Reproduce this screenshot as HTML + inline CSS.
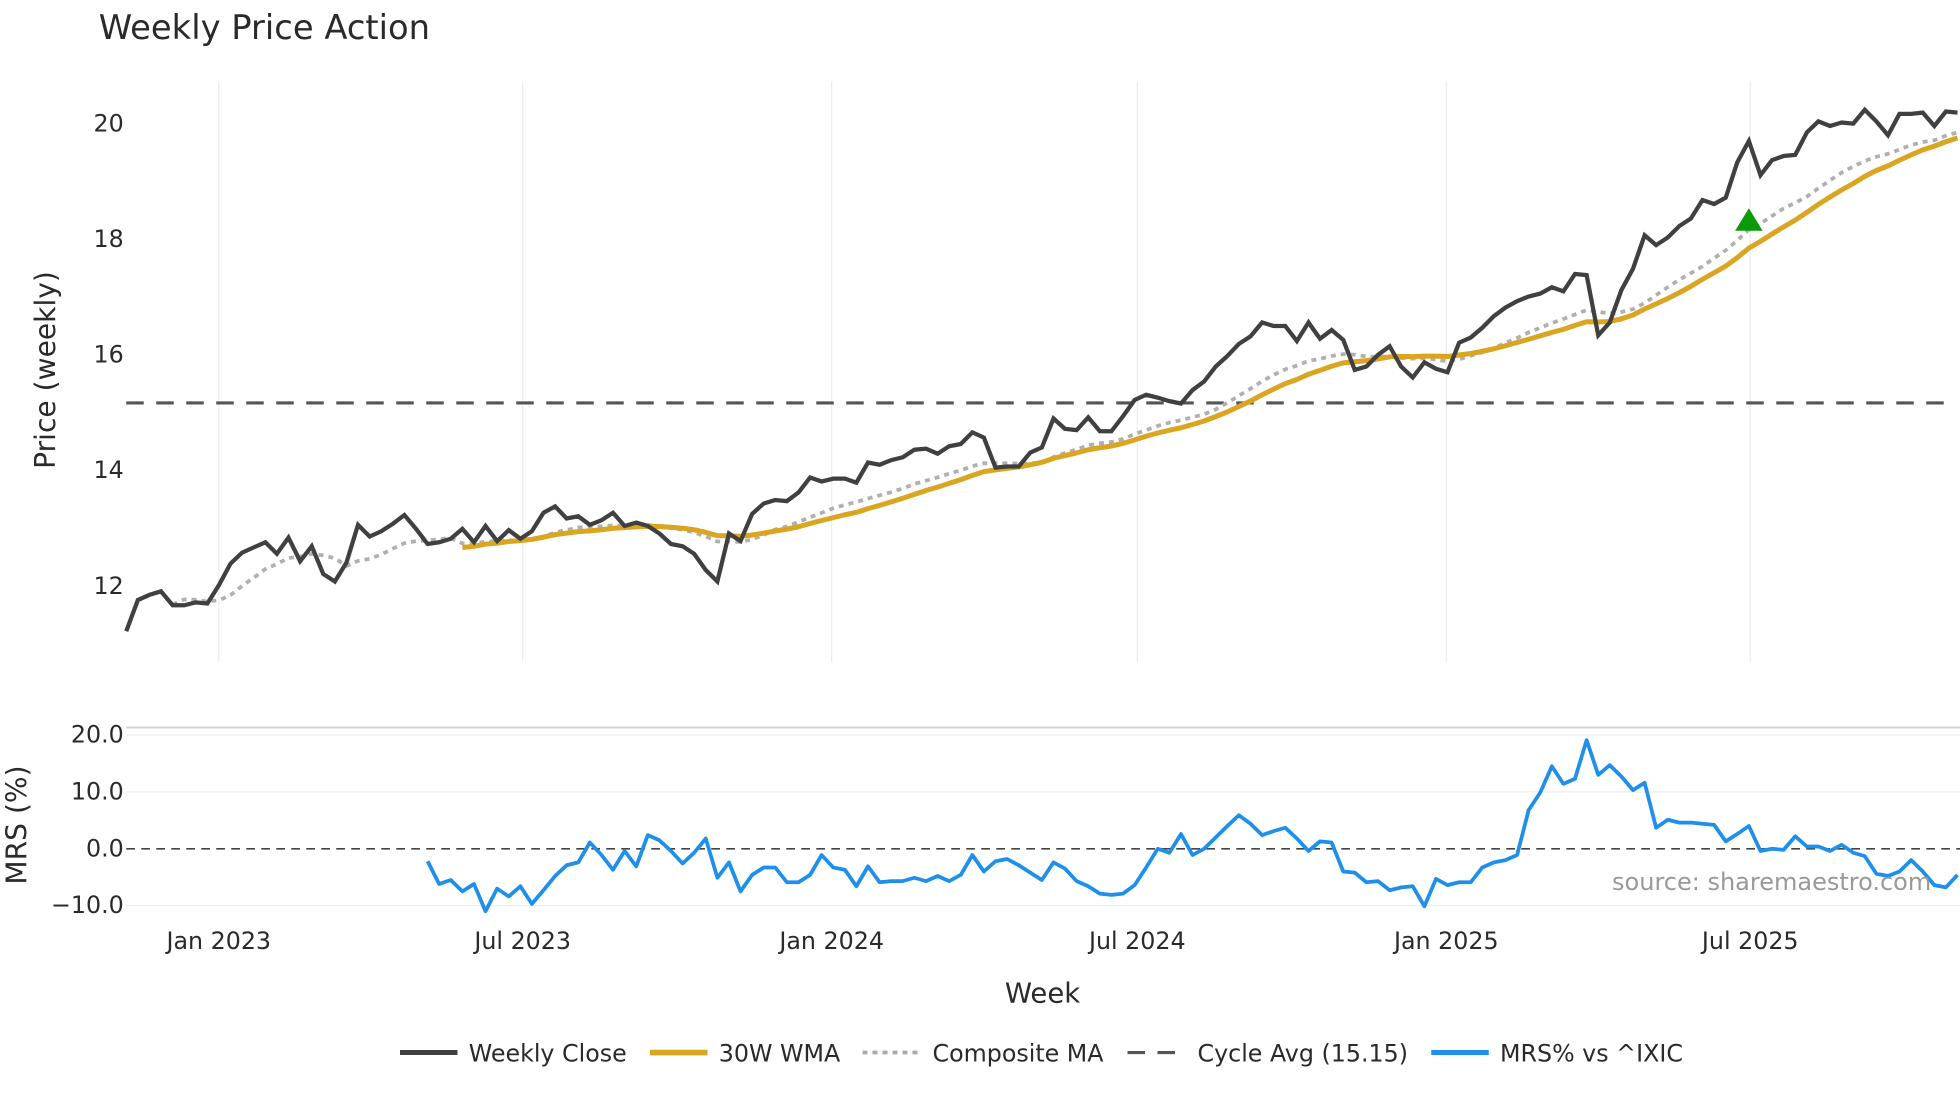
<!DOCTYPE html>
<html><head><meta charset="utf-8"><style>
html,body{margin:0;padding:0;background:#fff;}
svg{display:block;font-family:"DejaVu Sans","Liberation Sans",sans-serif;}
</style></head><body>
<svg id="chart" width="1960" height="1102" viewBox="0 0 1568 881.6" xmlns="http://www.w3.org/2000/svg">
<rect width="1568" height="881.6" fill="#fff"/>
<text x="79" y="31" font-size="27" fill="#2a2a2a">Weekly Price Action</text>
<g id="grid"></g>
<g id="marks"></g>
<g id="axes"></g>
<text transform="translate(44,296) rotate(-90)" text-anchor="middle" font-size="22.5" fill="#2a2a2a">Price (weekly)</text>
<text transform="translate(21,660) rotate(-90)" text-anchor="middle" font-size="22.5" fill="#2a2a2a">MRS (%)</text>
<text x="834" y="802" text-anchor="middle" font-size="22" fill="#2a2a2a">Week</text>
<text x="1545" y="712" text-anchor="end" font-size="19.2" fill="#999">source: sharemaestro.com</text>
<g font-size="19" fill="#2a2a2a">
  <g><line x1="320" y1="842" x2="366" y2="842" stroke="#404040" stroke-width="4"/><text x="375" y="849">Weekly Close</text></g>
  <g><line x1="520" y1="842" x2="566" y2="842" stroke="#DAA520" stroke-width="4.5"/><text x="575" y="849">30W WMA</text></g>
  <g><line x1="690" y1="842" x2="736" y2="842" stroke="#aaa" stroke-width="3" stroke-dasharray="4,4"/><text x="746" y="849">Composite MA</text></g>
  <g><line x1="902" y1="842" x2="946" y2="842" stroke="#555" stroke-width="2.5" stroke-dasharray="14,10"/><text x="958" y="849">Cycle Avg (15.15)</text></g>
  <g><line x1="1145" y1="842" x2="1191" y2="842" stroke="#1E8FEA" stroke-width="4"/><text x="1200" y="849">MRS% vs ^IXIC</text></g>
</g>
</svg>
<script>
const closes = [11.20,11.74,11.83,11.89,11.65,11.65,11.70,11.68,12.00,12.37,
12.56,12.65,12.74,12.54,12.82,12.41,12.67,12.19,12.06,12.39,
13.04,12.84,12.93,13.06,13.21,12.97,12.71,12.74,12.80,12.97,
12.74,13.02,12.76,12.95,12.80,12.93,13.25,13.36,13.15,13.19,
13.04,13.12,13.25,13.02,13.08,13.02,12.89,12.71,12.67,12.54,
12.26,12.06,12.89,12.76,13.23,13.41,13.47,13.45,13.60,13.86,
13.79,13.84,13.84,13.77,14.12,14.08,14.16,14.21,14.34,14.36,
14.27,14.40,14.44,14.64,14.55,14.03,14.05,14.05,14.29,14.38,
14.88,14.70,14.68,14.90,14.66,14.66,14.92,15.20,15.29,15.24,
15.18,15.14,15.37,15.52,15.78,15.96,16.17,16.30,16.54,16.48,
16.48,16.22,16.54,16.26,16.41,16.24,15.72,15.78,15.98,16.13,
15.78,15.59,15.85,15.74,15.68,16.19,16.28,16.45,16.65,16.80,
16.91,16.99,17.04,17.15,17.08,17.38,17.36,16.32,16.54,17.10,
17.47,18.05,17.88,18.01,18.21,18.34,18.66,18.59,18.70,19.31,
19.68,19.09,19.35,19.42,19.44,19.83,20.02,19.94,20.00,19.98,
20.22,20.02,19.78,20.15,20.15,20.17,19.94,20.19,20.17];
const mrs = [-2.2,-6.2,-5.5,-7.5,-6.2,-11.0,-7.0,-8.4,-6.6,-9.7,-7.3,-4.8,-2.9,-2.4,1.1,-1.1,-3.7,-0.4,-3.1,2.4,
1.5,-0.4,-2.6,-0.7,1.8,-5.1,-2.4,-7.5,-4.6,-3.3,-3.3,-5.9,-5.9,-4.6,-1.1,-3.3,-3.7,-6.6,-3.1,-5.9,
-5.7,-5.7,-5.1,-5.7,-4.8,-5.7,-4.6,-1.1,-4.0,-2.2,-1.8,-2.9,-4.2,-5.5,-2.4,-3.5,-5.7,-6.6,-7.9,-8.1,
-7.9,-6.4,-3.3,0.0,-0.7,2.6,-1.1,0.0,2.0,4.0,5.9,4.4,2.4,3.1,3.7,1.8,-0.4,1.3,1.1,-4.0,
-4.2,-5.9,-5.7,-7.3,-6.8,-6.6,-10.1,-5.3,-6.4,-5.9,-5.9,-3.3,-2.4,-2.0,-1.1,6.8,9.9,14.5,11.4,12.3,
19.1,13.0,14.7,12.7,10.3,11.6,3.7,5.1,4.6,4.6,4.4,4.2,1.3,2.6,4.0,-0.4,0.0,-0.2,2.2,0.4,
0.4,-0.4,0.7,-0.7,-1.3,-4.4,-4.8,-4.0,-2.0,-4.0,-6.4,-6.8,-4.6];
const priceTicks = [12,14,16,18,20];
const mrsTicks = [20,10,0,-10];
const mrsTickLabels = ["20.0","10.0","0.0","\u221210.0"];
const dateTicks = ["2023-01-01","2023-07-01","2024-01-01","2024-07-01","2025-01-01","2025-07-01"];
const dateTickLabels = ["Jan 2023","Jul 2023","Jan 2024","Jul 2024","Jan 2025","Jul 2025"];
const cycleAvg = 15.15;
const wmaWindow = 30;
const compositeWindows = [5,10,20,30];
const signalIndex = 140;
const signalPrice = 18.3;

const NS = "http://www.w3.org/2000/svg";
const n = closes.length;
const X0 = 101, X1 = 1566;
const xIdx = i => X0 + i * (X1 - X0) / (n - 1);
const dayMs = 86400000, ref = Date.UTC(2023,0,1);
const xDate = s => { const d = new Date(s + "T00:00:00Z"); return 175 + (d - ref) / dayMs * 1.3434; };
const yP = v => 98 + (20 - v) * 46.25;
const yM = v => 679 - v * 4.55;

function mk(tag, attrs, parent) {
  const e = document.createElementNS(NS, tag);
  for (const k in attrs) e.setAttribute(k, attrs[k]);
  parent.appendChild(e);
  return e;
}
const grid = document.getElementById("grid"), marks = document.getElementById("marks"), axes = document.getElementById("axes");

dateTicks.forEach((d, k) => {
  const x = xDate(d);
  const gl = mk("line", {x1:x, x2:x, y1:65, y2:530, stroke:"#ebeef2", "stroke-width":1}, grid);
  
  
  const t = mk("text", {x:x, y:759, "text-anchor":"middle", "font-size":19, fill:"#2a2a2a"}, axes);
  t.textContent = dateTickLabels[k];
  
  
});
priceTicks.forEach(v => {
  const t = mk("text", {x:99, y:yP(v) + 7, "text-anchor":"end", "font-size":19, fill:"#2a2a2a"}, axes);
  t.textContent = String(v);
  
  
});
const tb = mk("line", {x1:101, x2:1568, y1:582, y2:582, stroke:"#d0d0d0", "stroke-width":1.5}, grid);


mrsTicks.forEach((v, k) => {
  if (v !== 0) {
    const gl = mk("line", {x1:101, x2:1568, y1:yM(v), y2:yM(v), stroke:"#eceff3", "stroke-width":1}, grid);
    
    
  }
  const t = mk("text", {x:99, y:yM(v) + 6, "text-anchor":"end", "font-size":19, fill:"#2a2a2a"}, axes);
  t.textContent = mrsTickLabels[k];
  
  
});

const wma = closes.map((c, i) => {
  if (i < wmaWindow - 1) return null;
  let s = 0, w = 0;
  for (let j = 0; j < wmaWindow; j++) { const wt = j + 1; s += closes[i - wmaWindow + 1 + j] * wt; w += wt; }
  return s / w;
});
const composite = closes.map((c, i) => {
  const vals = [];
  compositeWindows.forEach(win => {
    if (i + 1 >= win) { let s = 0; for (let j = i - win + 1; j <= i; j++) s += closes[j]; vals.push(s / win); }
  });
  return vals.length ? vals.reduce((a, b) => a + b, 0) / vals.length : null;
});

function pathFrom(arr, yf, offset) {
  let d = "";
  arr.forEach((v, k) => { if (v === null) return; const i = k + offset; d += (d ? "L" : "M") + xIdx(i).toFixed(1) + "," + yf(v).toFixed(1); });
  return d;
}
const ca = mk("line", {x1:101, x2:1560, y1:yP(cycleAvg), y2:yP(cycleAvg), stroke:"#555", "stroke-width":2.5, "stroke-dasharray":"14,10"}, marks);


const zl = mk("line", {x1:101, x2:1568, y1:yM(0), y2:yM(0), stroke:"#444", "stroke-width":1.3, "stroke-dasharray":"7,5"}, marks);



const cm = mk("path", {d:pathFrom(composite, yP, 0), fill:"none", stroke:"#b0b0b0", "stroke-width":3, "stroke-dasharray":"4,4"}, marks);


const wl = mk("path", {d:pathFrom(wma, yP, 0), fill:"none", stroke:"#DAA520", "stroke-width":4, "stroke-linejoin":"round"}, marks);


const cl = mk("path", {d:pathFrom(closes, yP, 0), fill:"none", stroke:"#404040", "stroke-width":3.4, "stroke-linejoin":"miter"}, marks);


const ml = mk("path", {d:pathFrom(mrs, yM, n - mrs.length), fill:"none", stroke:"#1E8FEA", "stroke-width":3, "stroke-linejoin":"round"}, marks);



const sx = xIdx(signalIndex), sy = yP(signalPrice);
const tri = mk("path", {d:`M${sx},${sy-10}L${sx+11},${sy+8}L${sx-11},${sy+8}Z`, fill:"#0a9a0a"}, marks);


</script>
</body></html>
